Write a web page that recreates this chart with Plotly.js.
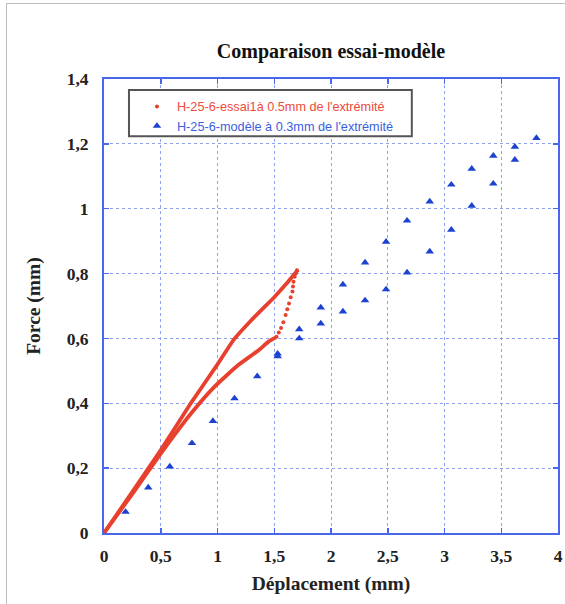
<!DOCTYPE html>
<html>
<head>
<meta charset="utf-8">
<script src="https://cdn.plot.ly/plotly-3.0.1.min.js"></script>
<style>
  html, body { margin: 0; padding: 0; background: #fff; }
  #wrap { position: relative; width: 565px; height: 604px; }
  #chart { width: 565px; height: 604px; }
  #frame { position: absolute; left: 6px; top: 3px; right: 0; bottom: 0;
           border-left: 1px solid #bdbdbd; border-top: 1px solid #bdbdbd; pointer-events: none; }
</style>
</head>
<body>
<div id="wrap"><div id="chart"></div><div id="frame"></div></div>
<script>
// Essai (test) — upper branch of the loop
const essaiHautX = [0, 0.26, 0.50, 0.77, 1.00, 1.145, 1.30, 1.50, 1.60, 1.71];
const essaiHautF = [0, 0.132, 0.256, 0.403, 0.52, 0.597, 0.657, 0.727, 0.766, 0.812];
// Essai — lower branch of the loop
const essaiBasX = [0, 0.26, 0.50, 0.77, 0.97, 1.18, 1.36, 1.45, 1.515];
const essaiBasF = [0, 0.125, 0.245, 0.37, 0.45, 0.517, 0.563, 0.59, 0.603];
// Essai — sparse dotted section closing the loop
const essaiPointsX = [1.52, 1.54, 1.56, 1.58, 1.60, 1.615, 1.63, 1.645, 1.66, 1.665, 1.67, 1.68, 1.69, 1.70];
const essaiPointsF = [0.605, 0.618, 0.632, 0.65, 0.672, 0.69, 0.708, 0.727, 0.745, 0.76, 0.775, 0.79, 0.80, 0.81];
// Modèle (model) points
const modeleX = [0, 0.19, 0.39, 0.58, 0.775, 0.96, 1.15, 1.35, 1.53, 1.53,
                 1.72, 1.72, 1.91, 1.91, 2.105, 2.105, 2.30, 2.30, 2.485, 2.485,
                 2.67, 2.67, 2.87, 2.87, 3.06, 3.06, 3.24, 3.24, 3.43, 3.43, 3.62, 3.62, 3.81];
const modeleF = [0, 0.065, 0.14, 0.205, 0.277, 0.345, 0.415, 0.483, 0.553, 0.545,
                 0.628, 0.60, 0.695, 0.646, 0.766, 0.683, 0.834, 0.717, 0.898, 0.751,
                 0.963, 0.803, 1.022, 0.868, 1.074, 0.935, 1.123, 1.009, 1.163, 1.077, 1.191, 1.151, 1.218];

const xTicks = [0, 0.5, 1, 1.5, 2, 2.5, 3, 3.5, 4];
const yTicks = [0, 0.2, 0.4, 0.6, 0.8, 1, 1.2, 1.4];

const red = '#e8402e';
const blue = '#1b42d0';
const serif = 'Liberation Serif, Times New Roman, serif';

const traces = [
  { x: essaiPointsX, y: essaiPointsF, mode: 'markers', type: 'scatter',
    name: '<span style="color:#ee4a3c">H-25-6-essai1à 0.5mm de l\'extrémité</span>',
    marker: { color: red, size: 4 }, legendrank: 1 },
  { x: modeleX, y: modeleF, mode: 'markers', type: 'scatter',
    name: '<span style="color:#3a5ee0">H-25-6-modèle à 0.3mm de l\'extrémité</span>',
    marker: { color: blue, size: 7.5, symbol: 'triangle-up' }, legendrank: 2 },
  { x: essaiHautX, y: essaiHautF, mode: 'lines', type: 'scatter', showlegend: false,
    line: { color: red, width: 3.8, shape: 'spline', smoothing: 0.4 } },
  { x: essaiBasX, y: essaiBasF, mode: 'lines', type: 'scatter', showlegend: false,
    line: { color: red, width: 3.8, shape: 'spline', smoothing: 0.4 } }
];

const axisCommon = {
  showline: true, mirror: 'ticks', linecolor: '#4866ee', linewidth: 2,
  ticks: 'inside', ticklen: 5, tickcolor: '#4866ee', tickwidth: 1.5,
  showgrid: true, gridcolor: '#8ea0f2', griddash: 'dot', gridwidth: 1,
  zeroline: false,
  tickfont: { family: serif, size: 17.5, color: '#222', weight: 'bold' }
};

const layout = {
  width: 565, height: 604,
  margin: { l: 104, r: 7, t: 79, b: 71 },
  paper_bgcolor: '#fff', plot_bgcolor: '#fff',
  separators: ', ',
  showlegend: true,
  title: { text: 'Comparaison essai-modèle', x: 0.5, xref: 'paper', y: 1 - 51 / 604, yref: 'container', yanchor: 'middle',
           font: { family: serif, size: 20, color: '#111', weight: 'bold' } },
  xaxis: Object.assign({}, axisCommon, {
    range: [0, 4], tickvals: xTicks, ticklabelstandoff: 6,
    title: { text: 'Déplacement (mm)', standoff: 11,
             font: { family: serif, size: 19.5, color: '#222', weight: 'bold' } }
  }),
  yaxis: Object.assign({}, axisCommon, {
    range: [0, 1.4], tickvals: yTicks, ticklabelstandoff: 10,
    title: { text: 'Force (mm)', standoff: 21,
             font: { family: serif, size: 19.5, color: '#222', weight: 'bold' } }
  }),
  legend: { x: 0.0726, y: 0.972, xanchor: 'left', yanchor: 'top', bgcolor: 'rgba(0,0,0,0)', borderwidth: 0,
            font: { family: 'Liberation Sans, Arial, sans-serif', size: 12.7 }, tracegroupgap: 0 },
  shapes: [
    { type: 'rect', xref: 'paper', yref: 'paper', x0: 0.055, x1: 0.678, y0: 0.874, y1: 0.976,
      line: { color: '#555', width: 2 }, fillcolor: '#fff', layer: 'above' }
  ]
};

Plotly.newPlot('chart', traces, layout, { displayModeBar: false, staticPlot: true });
</script>
</body>
</html>
